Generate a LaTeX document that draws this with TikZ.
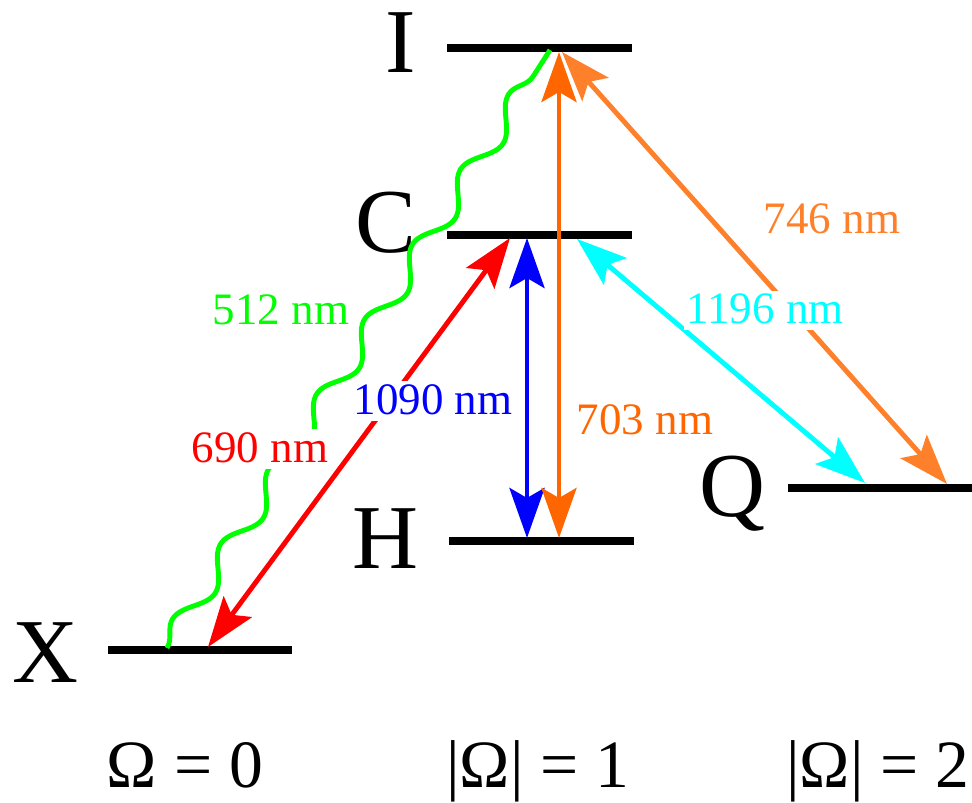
\documentclass[tikz,border=0pt]{standalone}
\usepackage{fontspec}
\setmainfont{Liberation Serif}
\usetikzlibrary{arrows.meta,decorations.pathmorphing}
\definecolor{wgreen}{RGB}{0,255,0}
\definecolor{wcyan}{RGB}{0,255,255}
\definecolor{dorange}{RGB}{255,102,0}
\definecolor{lorange}{RGB}{255,128,42}
\begin{document}
\begin{tikzpicture}[x=0.02cm,y=-0.02cm,
  level/.style={line width=4pt},
  trans/.style={{Stealth[length=1cm,width=0.7cm,inset=0.2cm]}-{Stealth[length=1cm,width=0.7cm,inset=0.2cm]},line width=2.8pt},
  wave/.style={wgreen,line width=2.8pt,decorate,decoration={snake,amplitude=0.22cm,segment length=1.78cm}},
  state/.style={font=\fontsize{52}{60}\selectfont,anchor=base},
  nm/.style={font=\fontsize{25.6}{30}\selectfont,fill=white,inner sep=1.5pt,text depth=0.22em,anchor=base},
  omega/.style={font=\fontsize{38.5}{46}\selectfont,anchor=base}]
  \useasboundingbox (0,0) rectangle (972,803);
  % levels
  \draw[level] (447,48) coordinate (I-l) -- (632,48) coordinate (I-r);
  \draw[level] (447,235) coordinate (C-l) -- (632,235) coordinate (C-r);
  \draw[level] (449,541) coordinate (H-l) -- (634,541) coordinate (H-r);
  \draw[level] (108,650) coordinate (X-l) -- (292,650) coordinate (X-r);
  \draw[level] (788,488) coordinate (Q-l) -- (972,488) coordinate (Q-r);
  \node[state] (I) at (401,73) {I};
  \node[state] (C) at (386,253) {C};
  \node[state] (H) at (385,568) {H};
  \node[state] (X) at (45,682) {X};
  \node[state] (Q) at (732,516) {Q};
  % ends of the transitions
  \coordinate (x1) at (167,648);
  \coordinate (x2) at (208,647);
  \coordinate (c1) at (510,238);
  \coordinate (c2) at (527,238);
  \coordinate (c3) at (577,239);
  \coordinate (h1) at (527,538);
  \coordinate (h2) at (559,538);
  \coordinate (i1) at (550,50);
  \coordinate (i2) at (559,52);
  \coordinate (i3) at (562,52);
  \coordinate (q1) at (865,483);
  \coordinate (q2) at (947,484);
  % transitions
  \draw[wave] (x1) -- (i1);
  \draw[trans,red] (c1) -- (x2);
  \draw[trans,blue] (c2) -- (h1);
  \draw[trans,dorange] (i2) -- (h2);
  \draw[trans,lorange] (i3) -- (q2);
  \draw[trans,wcyan] (c3) -- (q1);
  \node[nm,text=wgreen] (l512) at (281,325) {512 nm};
  \node[nm,text=red] (l690) at (260,462) {690 nm};
  \node[nm,text=blue] (l1090) at (433,414) {1090 nm};
  \node[nm,text=dorange] (l703) at (645,434) {703 nm};
  \node[nm,text=lorange] (l746) at (832,234) {746 nm};
  \node[nm,text=wcyan] (l1196) at (765,323) {1196 nm};
  % quantum numbers
  \node[omega] (o0) at (185,787) {Ω = 0};
  \node[omega] (o1) at (538,787) {|Ω| = 1};
  \node[omega] (o2) at (878,787) {|Ω| = 2};
\end{tikzpicture}
\end{document}
